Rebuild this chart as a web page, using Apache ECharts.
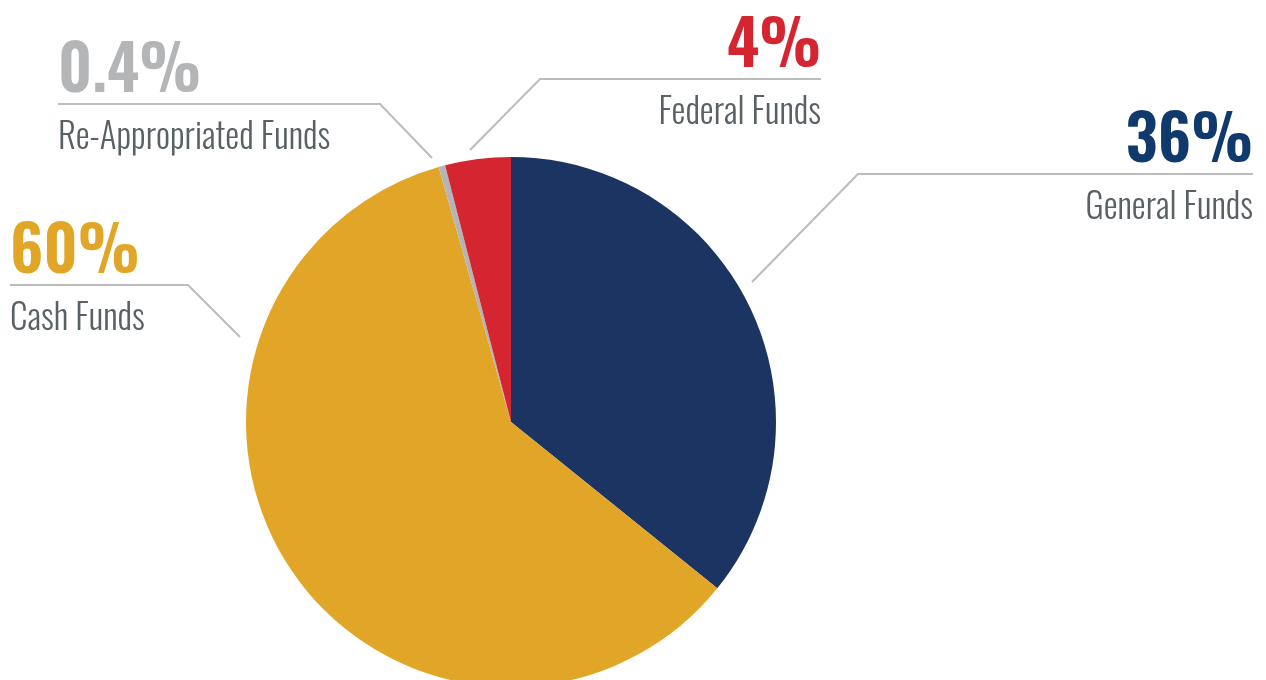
<!DOCTYPE html>
<html><head><meta charset="utf-8">
<script src="https://cdn.jsdelivr.net/npm/echarts@6/dist/echarts.min.js"></script>
<style>html,body{margin:0;padding:0;background:#fff}#c{width:1266px;height:680px}</style>
</head><body><div id="c"></div>
<script>
const categories = ['General Funds', 'Cash Funds', 'Re-Appropriated Funds', 'Federal Funds'];
const shares = [35.8, 59.8, 0.4, 4.0];
const shareLabels = ['36%', '60%', '0.4%', '4%'];
const sliceColors = ['#1b3461', '#e1a628', '#b4b5b7', '#d42531'];
const pctColors = ['#0f3a6b', '#e1a628', '#b4b5b7', '#d42531'];

// leader-line guides (layout only): start near slice, elbow, end under label edge
const labelGuides = [
  { start: [752, 282], elbow: [858, 174], end: [1253, 174], align: 'right' },
  { start: [240, 337], elbow: [188, 285], end: [10, 285], align: 'left' },
  { start: [432, 158], elbow: [380, 104], end: [58, 104], align: 'left' },
  { start: [470, 150], elbow: [540, 79], end: [821, 79], align: 'right' }
];
const PCT_LH = 62;
const FONT = 'Oswald, "Roboto Condensed", sans-serif';

const chart = echarts.init(document.getElementById('c'));
chart.setOption({
  backgroundColor: '#ffffff',
  animation: false,
  series: [{
    type: 'pie',
    center: [511, 422],
    radius: 265,
    startAngle: 90,
    clockwise: true,
    avoidLabelOverlap: false,
    data: categories.map((name, i) => ({
      name: name,
      value: shares[i],
      itemStyle: { color: sliceColors[i] },
      label: { rich: { p: { color: pctColors[i] } } }
    })),
    label: {
      show: true,
      position: 'outside',
      formatter: p => '{p|' + shareLabels[p.dataIndex] + '}\n{n|' + p.name + '}',
      rich: {
        p: { fontFamily: FONT, fontSize: 63, fontWeight: 600, lineHeight: PCT_LH },
        n: { fontFamily: FONT, fontSize: 35, fontWeight: 300, lineHeight: 68, color: '#596165' }
      }
    },
    labelLine: { show: true, lineStyle: { color: '#bcbcbc', width: 2 } },
    labelLayout: function (p) {
      const g = labelGuides[p.dataIndex];
      return {
        x: g.end[0],
        y: g.end[1] - PCT_LH,
        align: g.align,
        verticalAlign: 'top',
        labelLinePoints: [g.start, g.elbow, g.end]
      };
    }
  }]
});
</script></body></html>
